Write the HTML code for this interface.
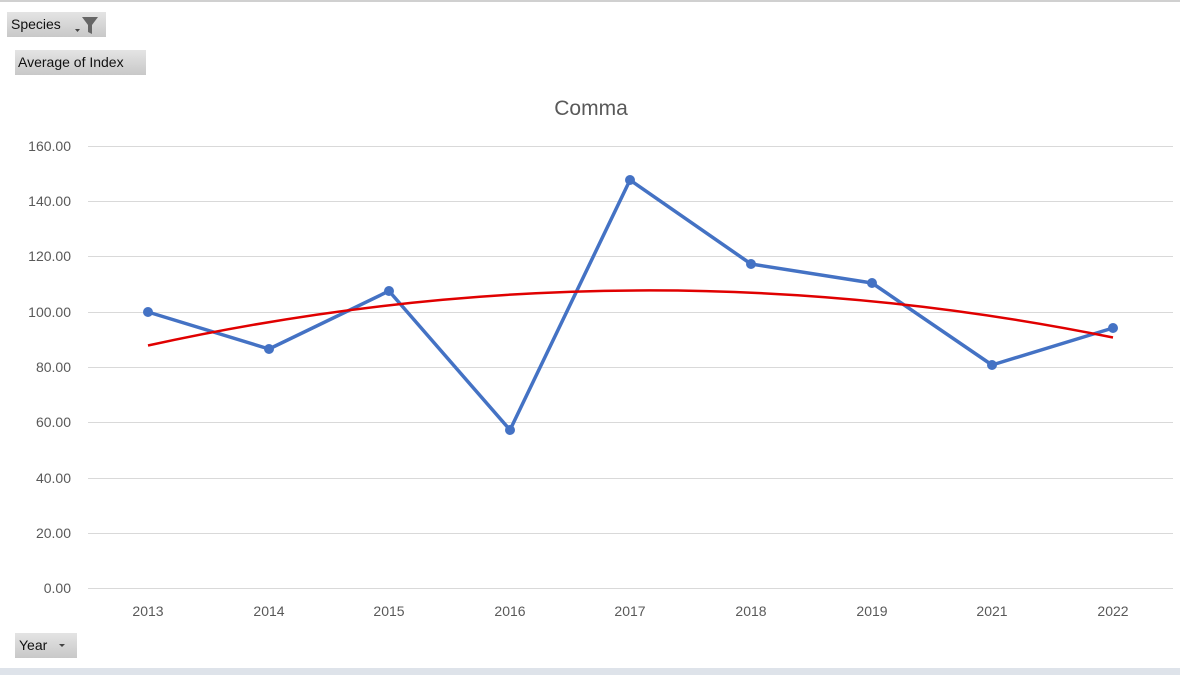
<!DOCTYPE html>
<html><head><meta charset="utf-8"><style>
body{margin:0;width:1180px;height:675px;background:#fff;overflow:hidden;font-family:"Liberation Sans",sans-serif;position:relative}
.btn{position:absolute;background:linear-gradient(#e4e4e4,#c8c8c8);font-size:14px;color:#111;height:25px;line-height:25px;padding-left:4px;box-sizing:border-box}
</style></head><body>
<div style="position:absolute;left:0;top:0;width:1180px;height:2px;background:#d0d0d0"></div>
<div class="btn" style="left:7px;top:12px;width:99px">Species</div>
<svg style="position:absolute;left:72px;top:14px" width="32" height="22"><path d="M3 15h5l-2.5 3z" fill="#444"/><path d="M10 3h16l-6 8v9l-4-2v-7z" fill="#666"/></svg>
<div class="btn" style="left:15px;top:50px;width:131px;padding-left:3px">Average of Index</div>
<div class="btn" style="left:15px;top:633px;width:62px">Year</div>
<svg style="position:absolute;left:58px;top:642px" width="10" height="8"><path d="M1 2h6l-3 3z" fill="#444"/></svg>
<div style="position:absolute;left:0;top:668px;width:1180px;height:7px;background:#dee3ea"></div>
<svg style="position:absolute;left:0;top:0" width="1180" height="668">
<text x="591" y="115" text-anchor="middle" font-size="21" fill="#595959" font-family="Liberation Sans,sans-serif">Comma</text>
<g stroke="#d9d9d9" stroke-width="1">
<line x1="88" x2="1173" y1="146.5" y2="146.5"/><line x1="88" x2="1173" y1="201.5" y2="201.5"/><line x1="88" x2="1173" y1="256.5" y2="256.5"/><line x1="88" x2="1173" y1="312.5" y2="312.5"/><line x1="88" x2="1173" y1="367.5" y2="367.5"/><line x1="88" x2="1173" y1="422.5" y2="422.5"/><line x1="88" x2="1173" y1="478.5" y2="478.5"/><line x1="88" x2="1173" y1="533.5" y2="533.5"/><line x1="88" x2="1173" y1="588.5" y2="588.5"/>
</g>
<g font-size="14" fill="#595959" text-anchor="end" font-family="Liberation Sans,sans-serif">
<text x="71" y="151">160.00</text><text x="71" y="206">140.00</text><text x="71" y="261">120.00</text><text x="71" y="317">100.00</text><text x="71" y="372">80.00</text><text x="71" y="427">60.00</text><text x="71" y="483">40.00</text><text x="71" y="538">20.00</text><text x="71" y="593">0.00</text>
</g>
<g font-size="14" fill="#595959" text-anchor="middle" font-family="Liberation Sans,sans-serif">
<text x="148" y="616">2013</text><text x="269" y="616">2014</text><text x="389" y="616">2015</text><text x="510" y="616">2016</text><text x="630" y="616">2017</text><text x="751" y="616">2018</text><text x="872" y="616">2019</text><text x="992" y="616">2021</text><text x="1113" y="616">2022</text>
</g>
<polyline fill="none" stroke="#4472c4" stroke-width="3.5" stroke-linejoin="round" points="148,312 269,349 389,291 510,430 630,180 751,264 872,283 992,365 1113,328"/>
<g fill="#4472c4"><circle cx="148" cy="312" r="5"/><circle cx="269" cy="349" r="5"/><circle cx="389" cy="291" r="5"/><circle cx="510" cy="430" r="5"/><circle cx="630" cy="180" r="5"/><circle cx="751" cy="264" r="5"/><circle cx="872" cy="283" r="5"/><circle cx="992" cy="365" r="5"/><circle cx="1113" cy="328" r="5"/></g>
<path d="M148 345.5 Q630.5 239.5 1113 337.5" fill="none" stroke="#e00000" stroke-width="2.5"/>
</svg>
</body></html>
